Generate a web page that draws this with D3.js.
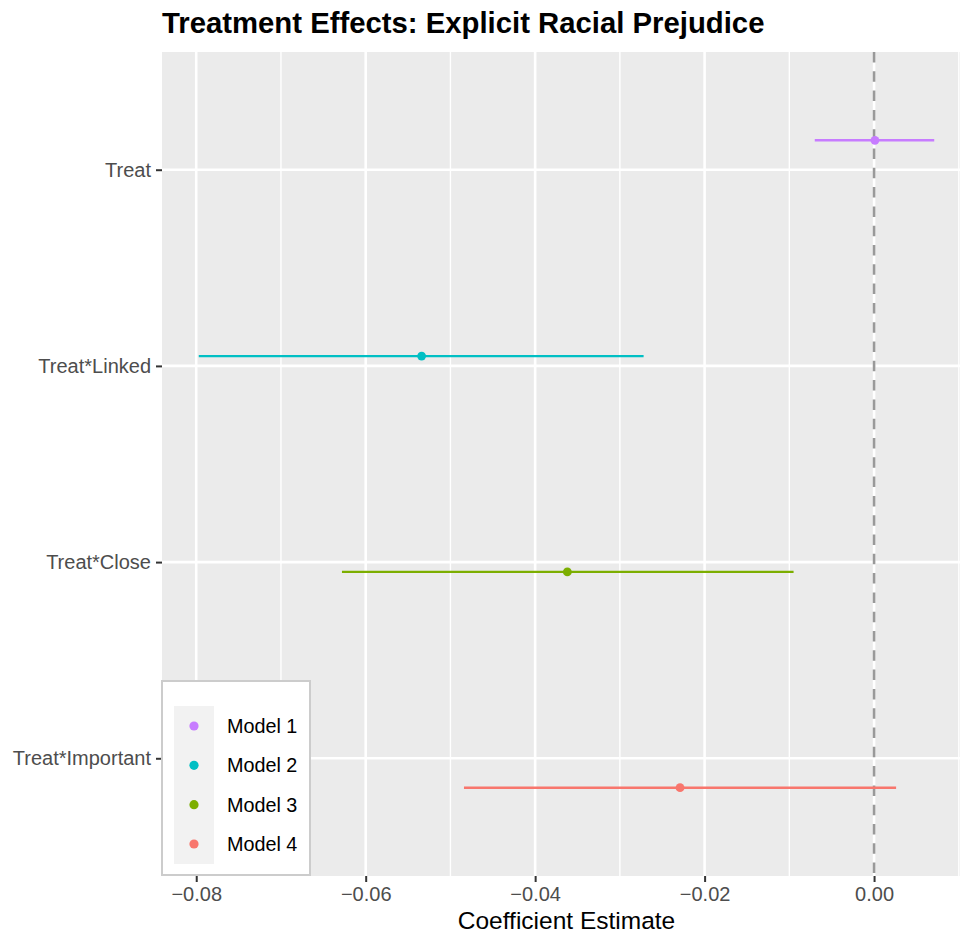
<!DOCTYPE html>
<html>
<head>
<meta charset="utf-8">
<script src="https://cdn.jsdelivr.net/npm/d3@7"></script>
<style>
  html, body { margin: 0; padding: 0; background: #ffffff; }
  svg { display: block; font-family: "Liberation Sans", Arial, Helvetica, sans-serif; }
</style>
</head>
<body>
<svg id="chart" width="960" height="933"></svg>
<script>
// ---- data ----
const categories = ["Treat", "Treat*Linked", "Treat*Close", "Treat*Important"];
const models = ["Model 1", "Model 2", "Model 3", "Model 4"];
const estimates = [0.0001, -0.0534, -0.0362, -0.0229];
const ciLower = [-0.0070, -0.0797, -0.0628, -0.0484];
const ciUpper = [0.0071, -0.0272, -0.0095, 0.0026];
const modelColors = ["#C77CFF", "#00BFC4", "#7CAE00", "#F8766D"];
const xMajorTicks = [-0.08, -0.06, -0.04, -0.02, 0.00];
const xMinorTicks = [-0.07, -0.05, -0.03, -0.01, 0.01];
const titleText = "Treatment Effects: Explicit Racial Prejudice";
const xTitle = "Coefficient Estimate";

const rows = categories.map((c, i) => ({
  cat: c, model: models[i], est: estimates[i], lo: ciLower[i], hi: ciUpper[i], color: modelColors[i], idx: i
}));

// ---- layout ----
const svg = d3.select("#chart");
const panel = { left: 162, top: 52, right: 971, bottom: 876 };

const dMin = d3.min(ciLower), dMax = d3.max(ciUpper);
const pad = (dMax - dMin) * 0.05;
const x = d3.scaleLinear().domain([dMin - pad, dMax + pad]).range([panel.left, panel.right]);
const y = d3.scalePoint().domain(categories).range([panel.top, panel.bottom]).padding(0.6);
const dodge = i => (i - 1.5) * 0.1 * y.step();

svg.append("defs").append("clipPath").attr("id", "pclip")
  .append("rect").attr("x", panel.left).attr("y", panel.top)
  .attr("width", panel.right - panel.left).attr("height", panel.bottom - panel.top);

const g = svg.append("g").attr("clip-path", "url(#pclip)");
g.append("rect").attr("x", panel.left).attr("y", panel.top)
  .attr("width", panel.right - panel.left).attr("height", panel.bottom - panel.top)
  .attr("fill", "#EBEBEB");

// grid
g.selectAll(".minor").data(xMinorTicks).join("line")
  .attr("x1", d => x(d)).attr("x2", d => x(d))
  .attr("y1", panel.top).attr("y2", panel.bottom)
  .attr("stroke", "#ffffff").attr("stroke-width", 1.4);
g.selectAll(".majorx").data(xMajorTicks).join("line")
  .attr("x1", d => x(d)).attr("x2", d => x(d))
  .attr("y1", panel.top).attr("y2", panel.bottom)
  .attr("stroke", "#ffffff").attr("stroke-width", 2.6);
g.selectAll(".majory").data(categories).join("line")
  .attr("x1", panel.left).attr("x2", panel.right)
  .attr("y1", d => y(d)).attr("y2", d => y(d))
  .attr("stroke", "#ffffff").attr("stroke-width", 2.6);

// reference line at zero
g.append("line").attr("x1", x(0)).attr("x2", x(0))
  .attr("y1", panel.top).attr("y2", panel.bottom)
  .attr("stroke", "#999999").attr("stroke-width", 2.6)
  .attr("stroke-dasharray", "10.5,8.8");

// error bars and points
g.selectAll(".err").data(rows).join("line")
  .attr("x1", d => x(d.lo)).attr("x2", d => x(d.hi))
  .attr("y1", d => y(d.cat) + dodge(d.idx)).attr("y2", d => y(d.cat) + dodge(d.idx))
  .attr("stroke", d => d.color).attr("stroke-width", 2.4);
g.selectAll(".pt").data(rows).join("circle")
  .attr("cx", d => x(d.est)).attr("cy", d => y(d.cat) + dodge(d.idx))
  .attr("r", 4.4).attr("fill", d => d.color);

// axes
const xAxis = svg.append("g").attr("transform", `translate(0,${panel.bottom})`)
  .call(d3.axisBottom(x).tickValues(xMajorTicks).tickFormat(d3.format(".2f")).tickSize(6).tickPadding(5));
xAxis.select(".domain").remove();
xAxis.selectAll(".tick line").attr("stroke", "#333333").attr("stroke-width", 2);
xAxis.selectAll(".tick text").attr("fill", "#4D4D4D").attr("font-size", 20)
  .attr("font-family", "Liberation Sans, Arial, sans-serif");

const yAxis = svg.append("g").attr("transform", `translate(${panel.left},0)`)
  .call(d3.axisLeft(y).tickSize(6).tickPadding(5));
yAxis.select(".domain").remove();
yAxis.selectAll(".tick line").attr("stroke", "#333333").attr("stroke-width", 2);
yAxis.selectAll(".tick text").attr("fill", "#4D4D4D").attr("font-size", 20)
  .attr("font-family", "Liberation Sans, Arial, sans-serif");

// titles
svg.append("text").attr("x", 162).attr("y", 33)
  .attr("font-size", 29.3).attr("font-weight", "bold").attr("fill", "#000000")
  .text(titleText);
svg.append("text").attr("x", (panel.left + panel.right) / 2).attr("y", 929)
  .attr("text-anchor", "middle").attr("font-size", 24.5).attr("fill", "#000000")
  .text(xTitle);

// legend
const leg = svg.append("g");
leg.append("rect").attr("x", 162).attr("y", 681).attr("width", 148).attr("height", 194)
  .attr("fill", "#ffffff").attr("stroke", "#CCCCCC").attr("stroke-width", 2);
leg.append("rect").attr("x", 174).attr("y", 706).attr("width", 40).attr("height", 158)
  .attr("fill", "#F2F2F2");
const ly = d3.scalePoint().domain(models).range([726, 844]);
leg.selectAll(".ld").data(rows).join("circle")
  .attr("cx", 194).attr("cy", d => ly(d.model)).attr("r", 4.6).attr("fill", d => d.color);
leg.selectAll(".lt").data(rows).join("text")
  .attr("x", 227).attr("y", d => ly(d.model)).attr("dy", "0.36em")
  .attr("font-size", 19.8).attr("fill", "#000000")
  .text(d => d.model);
</script>
</body>
</html>
